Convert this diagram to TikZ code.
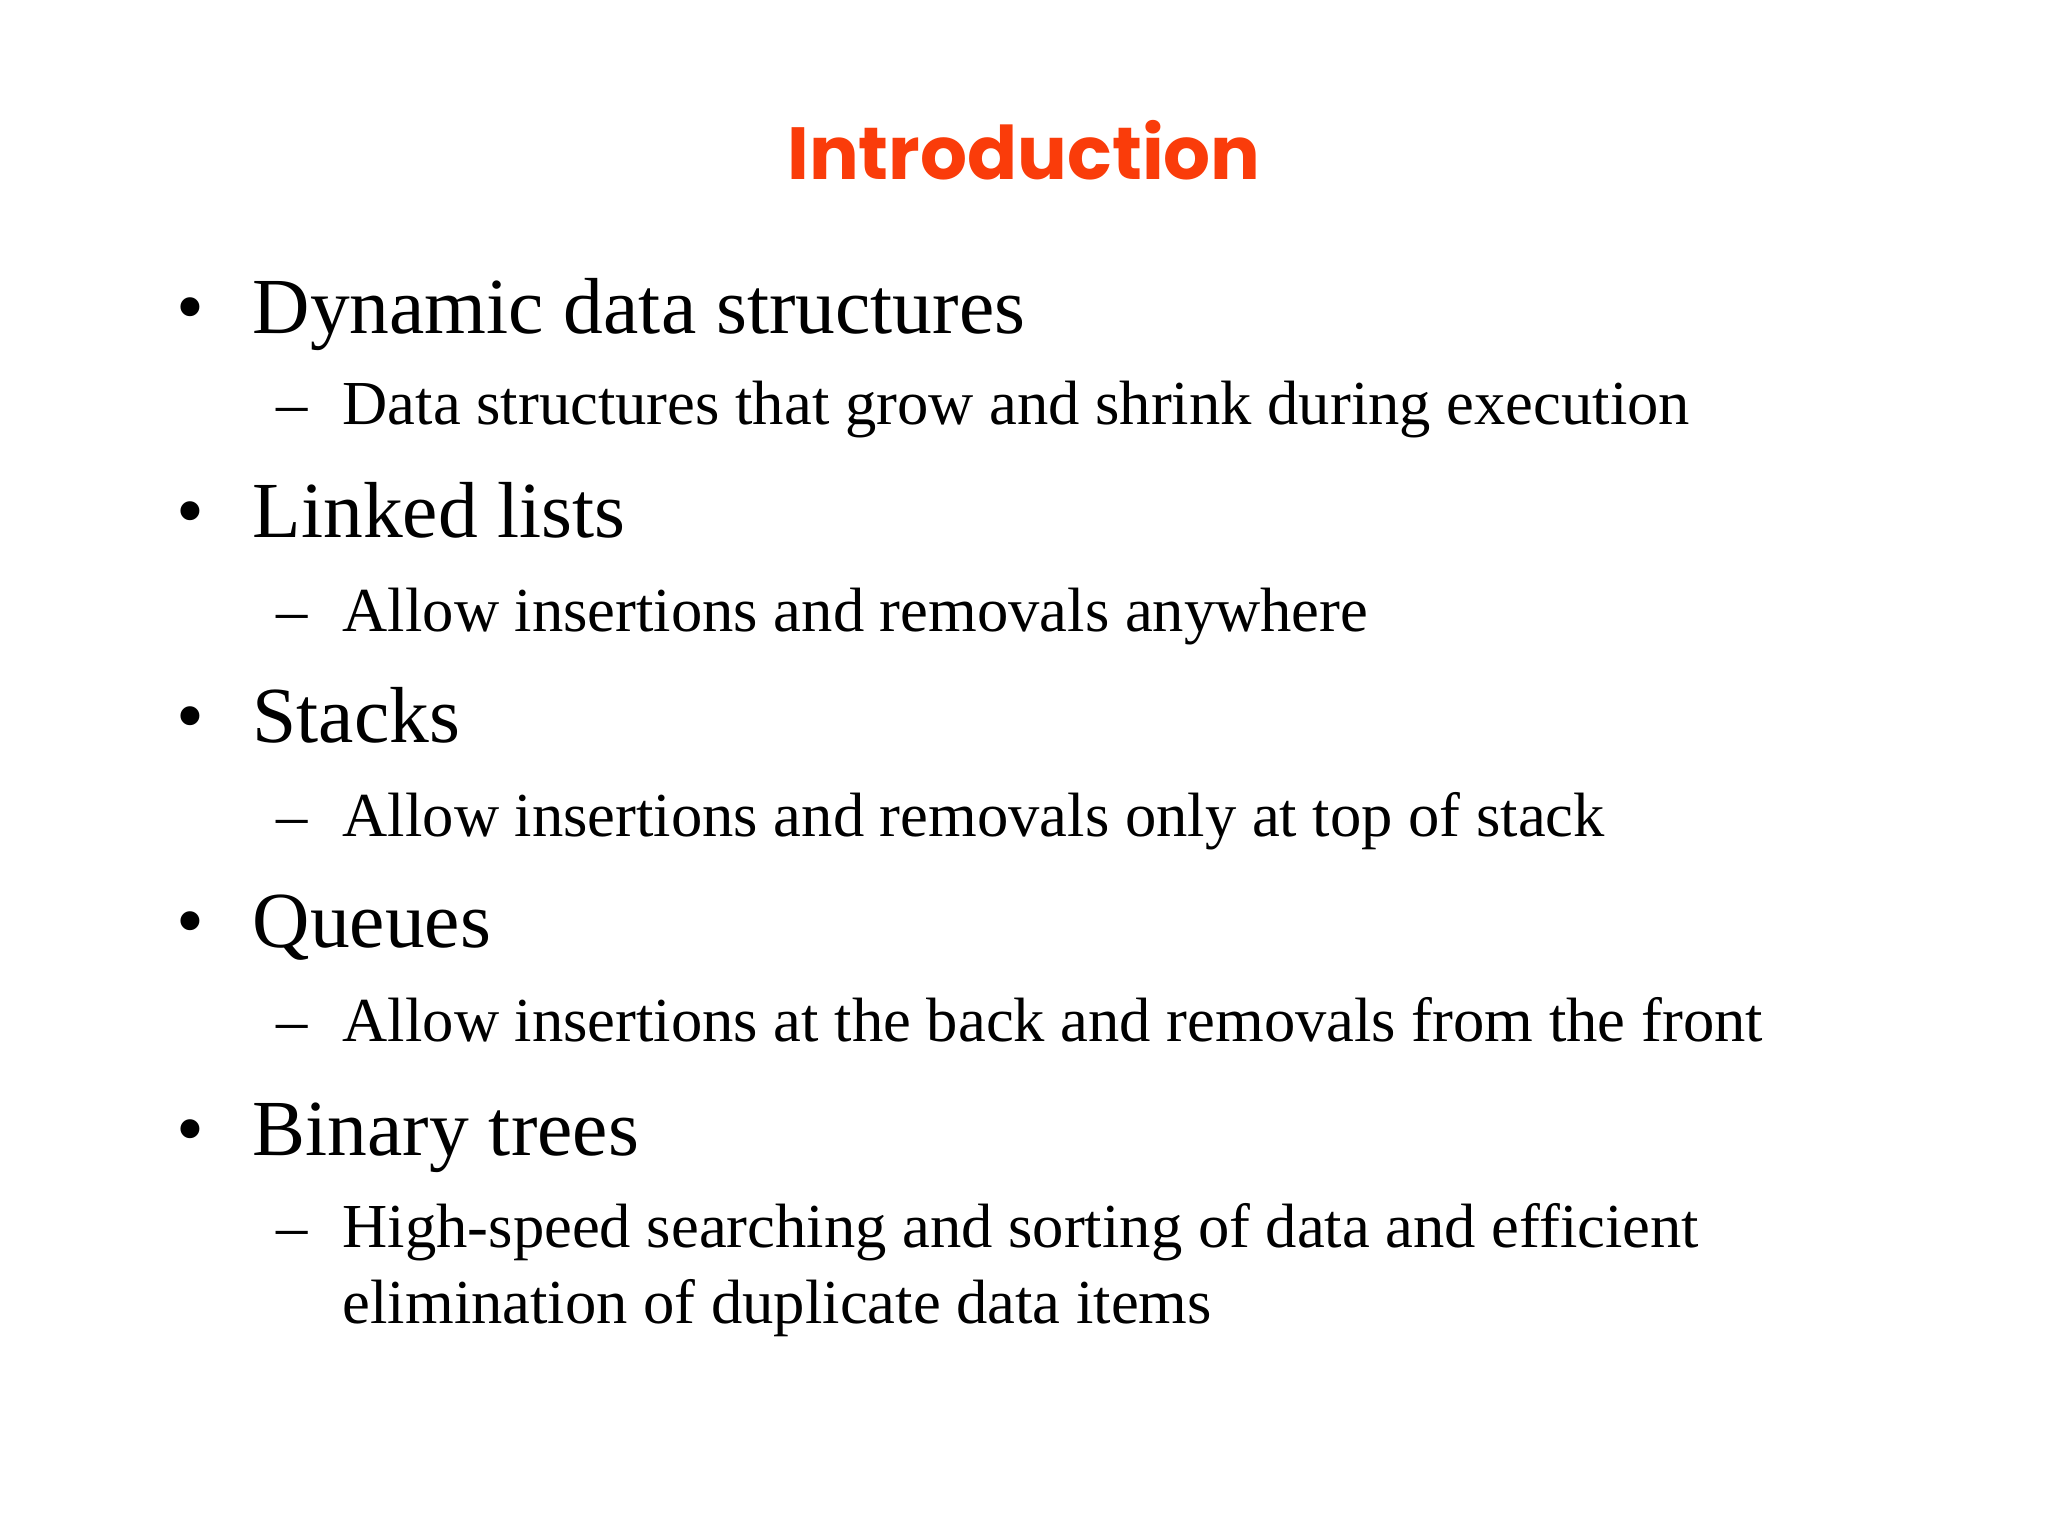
\documentclass[tikz,border=0pt]{standalone}
\usepackage{fontspec}
\setmainfont{Liberation Serif}
\newfontfamily\titlefont{Poppins}
\definecolor{titlered}{RGB}{250,60,10}
\begin{document}
\begin{tikzpicture}[x=0.01cm,y=-0.01cm,
  lvone/.style={anchor=base west,inner sep=0,font=\fontsize{22.6}{27}\selectfont},
  lvtwo/.style={anchor=base west,inner sep=0,font=\fontsize{17.8}{22}\selectfont},
  mark1/.style={anchor=base,inner sep=0,font=\fontsize{22.6}{27}\selectfont},
  mark2/.style={anchor=base,inner sep=0,font=\fontsize{17.8}{22}\selectfont}]
\fill[white] (0,0) rectangle (2048,1536);
\useasboundingbox (0,0) rectangle (2048,1536);
\node[anchor=base,inner sep=0,text=titlered,font=\titlefont\bfseries\fontsize{21}{26}\selectfont] (title) at (1024,179) {Introduction};
\foreach \y/\t [count=\i] in {333/Dynamic data structures,537/Linked lists,742/Stacks,947/Queues,1155/Binary trees}{
  \node[mark1] (b\i) at (190,\y) {•};
  \node[lvone] (t\i) at (252,\y) {\t};
}
\foreach \y/\t [count=\i] in {424/Data structures that grow and shrink during execution,631/Allow insertions and removals anywhere,836/Allow insertions and removals only at top of stack,1041/Allow insertions at the back and removals from the front,1247/High-speed searching and sorting of data and efficient}{
  \node[mark2] (d\i) at (292,\y) {–};
  \node[lvtwo] (s\i) at (342,\y) {\t};
}
\node[lvtwo] (s6) at (342,1323) {elimination of duplicate data items};
\end{tikzpicture}
\end{document}
